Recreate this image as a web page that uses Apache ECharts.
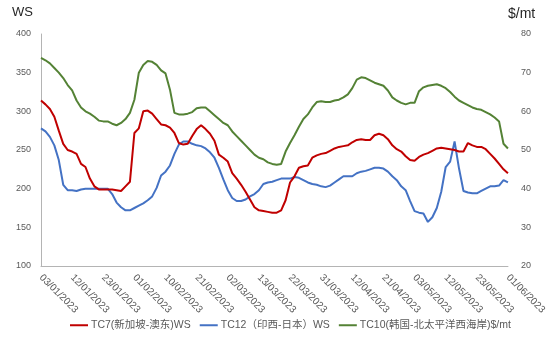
<!DOCTYPE html>
<html>
<head>
<meta charset="utf-8">
<script src="https://cdn.jsdelivr.net/npm/echarts@6/dist/echarts.min.js"></script>
<style>
  html, body { margin: 0; padding: 0; background: #ffffff; }
  #chart { width: 549px; height: 342px; }
</style>
</head>
<body>
<div id="chart"></div>
<script>
// Trading days, Jan–Jun 2023
const dates = [
  '03/01/2023','04/01/2023','05/01/2023','06/01/2023','09/01/2023','10/01/2023','11/01/2023','12/01/2023','13/01/2023','16/01/2023',
  '17/01/2023','18/01/2023','19/01/2023','20/01/2023','23/01/2023','24/01/2023','25/01/2023','26/01/2023','27/01/2023','30/01/2023',
  '31/01/2023','01/02/2023','02/02/2023','03/02/2023','06/02/2023','07/02/2023','08/02/2023','09/02/2023','10/02/2023','13/02/2023',
  '14/02/2023','15/02/2023','16/02/2023','17/02/2023','20/02/2023','21/02/2023','22/02/2023','23/02/2023','24/02/2023','27/02/2023',
  '28/02/2023','01/03/2023','02/03/2023','03/03/2023','06/03/2023','07/03/2023','08/03/2023','09/03/2023','10/03/2023','13/03/2023',
  '14/03/2023','15/03/2023','16/03/2023','17/03/2023','20/03/2023','21/03/2023','22/03/2023','23/03/2023','24/03/2023','27/03/2023',
  '28/03/2023','29/03/2023','30/03/2023','31/03/2023','03/04/2023','04/04/2023','05/04/2023','06/04/2023','10/04/2023','11/04/2023',
  '12/04/2023','13/04/2023','14/04/2023','17/04/2023','18/04/2023','19/04/2023','20/04/2023','21/04/2023','24/04/2023','25/04/2023',
  '26/04/2023','27/04/2023','28/04/2023','02/05/2023','03/05/2023','04/05/2023','05/05/2023','08/05/2023','09/05/2023','10/05/2023',
  '11/05/2023','12/05/2023','15/05/2023','16/05/2023','17/05/2023','18/05/2023','19/05/2023','22/05/2023','23/05/2023','24/05/2023',
  '25/05/2023','26/05/2023','29/05/2023','30/05/2023','31/05/2023','01/06/2023'
];

// TC7 Singapore - East Australia (WS)
const tc7 = [
  314, 309, 303, 293, 275, 258, 250, 248, 245, 232,
  228, 213, 203, 199, 199, 199, 199, 198, 197, 203,
  209, 272, 278, 300, 301, 297, 290, 283, 282, 279,
  272, 259, 257, 258, 268, 277, 282, 277, 271, 262,
  244, 240, 235, 220, 213, 205, 196, 186, 176, 172,
  171, 170, 169, 169, 172, 185, 208, 216, 227, 229,
  230, 240, 243, 245, 246, 249, 252, 254, 255, 256,
  260, 263, 264, 263, 263, 269, 271, 269, 264, 256,
  251, 248, 242, 237, 236, 241, 244, 246, 249, 252,
  253, 252, 251, 250, 248, 248, 259, 256, 254, 254,
  251, 245, 239, 232, 225, 220
];

// TC12 West India - Japan (WS)
const tc12 = [
  278, 274, 267, 256, 237, 205, 198, 198, 197, 199,
  200, 200, 200, 200, 200, 200, 193, 182, 176, 172,
  172, 175, 178, 181, 185, 190, 201, 217, 222, 230,
  245, 257, 261, 261, 258, 256, 255, 252, 247, 240,
  227, 212, 198, 188, 184, 184, 186, 190, 193, 198,
  206, 208, 209, 211, 213, 213, 213, 215, 214, 211,
  208, 206, 205, 203, 202, 204, 208, 212, 216, 216,
  216, 220, 222, 223, 225, 227, 227, 226, 222, 216,
  211, 203, 198, 184, 171, 169, 168, 157, 163, 175,
  196, 228, 235, 261, 226, 197, 195, 194, 194, 197,
  200, 203, 203, 204, 211, 208
];

// TC10 Korea - North Pacific West Coast ($/mt)
const tc10 = [
  73.8, 73.2, 72.4, 71.2, 70.0, 68.6, 66.8, 65.4, 62.8, 61.0,
  60.0, 59.4, 58.6, 57.6, 57.4, 57.4, 56.8, 56.4, 57.0, 58.0,
  59.6, 63.0, 70.0, 72.0, 73.0, 72.8, 72.0, 70.6, 69.8, 65.6,
  59.6, 59.2, 59.2, 59.4, 59.8, 60.8, 61.0, 61.0, 60.0, 59.0,
  58.0, 57.0, 56.4, 54.8, 53.6, 52.4, 51.2, 50.0, 48.8, 48.0,
  47.6, 46.8, 46.4, 46.2, 46.4, 49.6, 51.8, 53.8, 56.0, 58.0,
  59.2, 61.0, 62.4, 62.6, 62.4, 62.4, 62.8, 63.0, 63.6, 64.4,
  66.0, 68.2, 68.8, 68.6, 68.0, 67.4, 67.0, 66.6, 65.4, 63.6,
  62.8, 62.2, 61.8, 62.2, 62.2, 65.2, 66.2, 66.6, 66.8, 67.0,
  66.6, 66.0, 65.0, 63.8, 62.8, 62.2, 61.6, 61.0, 60.6, 60.4,
  59.8, 59.2, 58.4, 57.4, 51.6, 50.4
];

const seriesNames = ['TC7(新加坡-澳东)WS', 'TC12（印西-日本）WS', 'TC10(韩国-北太平洋西海岸)$/mt'];
const seriesColors = ['#C00000', '#4472C4', '#548235'];
const leftAxis = { min: 100, max: 400, interval: 50 };
const rightAxis = { min: 20, max: 80, interval: 10 };

const fontFamily = "'Liberation Sans', Arial, 'Noto Sans CJK SC', sans-serif";
const labelColor = '#595959';
const axisLineStyle = { color: '#b4b4b4', width: 1 };

const chart = echarts.init(document.getElementById('chart'), null, { renderer: 'canvas' });

function lineSeries(idx, data, yAxisIndex) {
  return {
    name: seriesNames[idx],
    type: 'line',
    yAxisIndex: yAxisIndex,
    data: data,
    symbol: 'none',
    smooth: false,
    lineStyle: { color: seriesColors[idx], width: 2 },
    itemStyle: { color: seriesColors[idx] },
    z: 3 - idx
  };
}

chart.setOption({
  animation: false,
  textStyle: { fontFamily: fontFamily },
  grid: { left: 41, right: 38, top: 34, bottom: 76, containLabel: false },
  legend: {
    data: seriesNames,
    left: 70,
    top: 320,
    padding: 0,
    icon: 'rect',
    itemWidth: 18,
    itemHeight: 2,
    itemGap: 9,
    textStyle: { fontSize: 10.5, color: labelColor, fontFamily: fontFamily, padding: [0, 0, 0, -2] }
  },
  xAxis: {
    type: 'category',
    data: dates,
    boundaryGap: false,
    axisLine: { show: true, lineStyle: axisLineStyle },
    axisTick: { show: false },
    splitLine: { show: false },
    axisLabel: {
      interval: 6,
      rotate: -45,
      margin: 10,
      fontSize: 10,
      color: labelColor
    }
  },
  yAxis: [
    {
      type: 'value',
      min: leftAxis.min,
      max: leftAxis.max,
      interval: leftAxis.interval,
      name: 'WS',
      nameLocation: 'end',
      nameGap: 15,
      nameTextStyle: { fontSize: 13, color: '#262626', align: 'right', padding: [0, 8, 0, 0] },
      axisLine: { show: true, lineStyle: axisLineStyle },
      axisTick: { show: false },
      splitLine: { show: false },
      axisLabel: { fontSize: 9, color: labelColor, margin: 10 }
    },
    {
      type: 'value',
      min: rightAxis.min,
      max: rightAxis.max,
      interval: rightAxis.interval,
      name: '$/mt',
      nameLocation: 'end',
      nameGap: 13,
      nameTextStyle: { fontSize: 14, color: '#262626', align: 'left', padding: [0, 0, 0, 0] },
      axisLine: { show: false },
      axisTick: { show: false },
      splitLine: { show: false },
      axisLabel: { fontSize: 9, color: labelColor, margin: 13 }
    }
  ],
  series: [
    lineSeries(0, tc7, 0),
    lineSeries(1, tc12, 0),
    lineSeries(2, tc10, 1)
  ]
});
</script>
</body>
</html>
